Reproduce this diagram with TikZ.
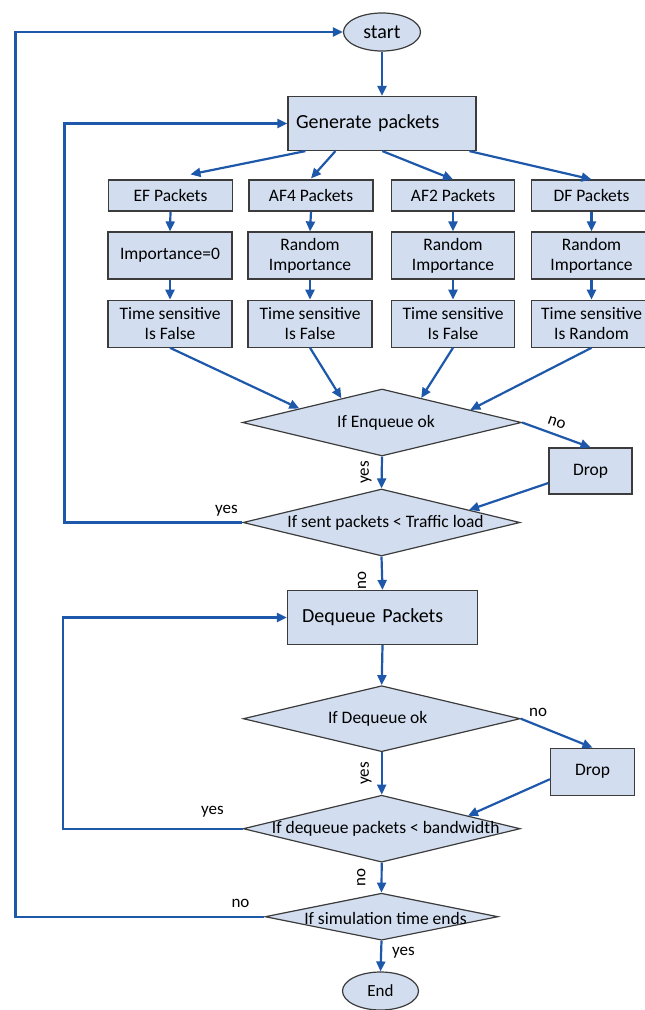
\documentclass[tikz,border=0pt]{standalone}
\usepackage{fontspec}
\setmainfont{Carlito}
\usetikzlibrary{shapes.geometric,arrows.meta,calc}
\definecolor{boxfill}{RGB}{210,222,239}
\definecolor{arrowblue}{RGB}{30,88,170}
\definecolor{boxline}{RGB}{60,60,60}
\begin{document}
\begin{tikzpicture}[x=1pt,y=-1pt,
 box/.style={draw=boxline, line width=1.2pt, fill=boxfill, rectangle, inner sep=0pt, align=center, font=\fontsize{17.5}{20}\selectfont},
 bigbox/.style={box, font=\fontsize{20}{24}\selectfont},
 dia/.style={draw=boxline, line width=1.2pt, fill=boxfill, diamond, inner sep=0pt},
 term/.style={draw=boxline, line width=1.2pt, fill=boxfill, ellipse, inner sep=0pt},
 arr/.style={draw=arrowblue, line width=2.2pt, -{Triangle[length=10pt,width=9pt]}},
 lbl/.style={font=\fontsize{17}{20}\selectfont, inner sep=0pt},
 vyes/.style={lbl, rotate=90, anchor=south, inner sep=9pt},
 vno/.style={lbl, rotate=90, anchor=south, inner sep=15pt},
 dtext/.style={font=\fontsize{17.5}{21}\selectfont, inner sep=0pt}
]
\useasboundingbox (0,0) rectangle (645,1010);

% terminals and main boxes
\node[term, minimum width=77, minimum height=38, font=\fontsize{20}{24}\selectfont] (start) at (382,32) {start};
\node[bigbox, minimum width=188, minimum height=54, text width=172, align=left] (gen) at (382,123.5) {Generate packets};

% row 1
\node[box, minimum width=124, minimum height=31] (ef1) at (170.5,195.5) {EF Packets};
\node[box, minimum width=124, minimum height=31] (af41) at (311,195.5) {AF4 Packets};
\node[box, minimum width=123, minimum height=31] (af21) at (453,195.5) {AF2 Packets};
\node[box, minimum width=120, minimum height=31] (df1) at (591.5,195.5) {DF Packets};
% row 2
\node[box, minimum width=124, minimum height=47] (ef2) at (170,255.5) {Importance=0};
\node[box, minimum width=124, minimum height=47] (af42) at (310,255.5) {Random\\Importance};
\node[box, minimum width=123, minimum height=47] (af22) at (453,255.5) {Random\\Importance};
\node[box, minimum width=120, minimum height=47] (df2) at (591.5,255.5) {Random\\Importance};
% row 3
\node[box, minimum width=124, minimum height=47] (ef3) at (170,323.7) {Time sensitive\\Is False};
\node[box, minimum width=124, minimum height=47] (af43) at (310,323.7) {Time sensitive\\Is False};
\node[box, minimum width=123, minimum height=47] (af23) at (453,323.7) {Time sensitive\\Is False};
\node[box, minimum width=120, minimum height=47] (df3) at (591.5,323.7) {Time sensitive\\Is Random};

% enqueue part
\node[dia, minimum width=279, minimum height=67, label={[dtext,xshift=4pt]center:If Enqueue ok}] (enq) at (382,422.5) {};
\node[box, minimum width=83, minimum height=46] (drop1) at (590.5,471) {Drop};
\node[dia, minimum width=277, minimum height=67, label={[dtext,xshift=4pt]center:If sent packets < Traffic load}] (sent) at (381.5,522.5) {};

% dequeue part
\node[bigbox, minimum width=190, minimum height=54, text width=161, align=left] (deq) at (382.5,617.5) {Dequeue Packets};
\node[dia, minimum width=277, minimum height=66, label={[dtext,xshift=-4pt]center:If Dequeue ok}] (deqok) at (381.7,718.7) {};
\node[box, minimum width=84, minimum height=47] (drop2) at (592.5,771.7) {Drop};
\node[dia, minimum width=277, minimum height=67, label={[dtext,xshift=4pt]center:If dequeue packets < bandwidth}] (bw) at (381.7,828.7) {};
\node[dia, minimum width=233, minimum height=47, label={[dtext,xshift=4pt,yshift=-2pt]center:If simulation time ends}] (sim) at (381.5,916.7) {};
\node[term, minimum width=76, minimum height=38, font=\fontsize{17}{20}\selectfont] (endn) at (380.5,991) {End};

% connectors
\draw[arr] (start.south) -- (gen.north);
\draw[arr] ($(gen.south west)+(18,0)$) -- ($(ef1.north)+(20,-5)$);
\draw[arr] ($(gen.south west)+(48,0)$) -- ($(af41.north)+(0,-1)$);
\draw[arr] ($(gen.south west)+(95,0)$) -- (af21.north);
\draw[arr] ($(gen.south west)+(182,0)$) -- (df1.north);

\draw[arr] (ef1.south) -- (ef2.north);
\draw[arr] (af41.south) -- (af42.north);
\draw[arr] (af21.south) -- (af22.north);
\draw[arr] (df1.south) -- (df2.north);
\draw[arr] (ef2.south) -- (ef3.north);
\draw[arr] (af42.south) -- (af43.north);
\draw[arr] (af22.south) -- (af23.north);
\draw[arr] (df2.south) -- (df3.north);

\draw[arr] (ef3.south) -- ($(enq.north)!0.59!(enq.west)$);
\draw[arr] (af43.south) -- ($(enq.north)!0.29!(enq.west)$);
\draw[arr] (af23.south) -- ($(enq.north)!0.28!(enq.east)$);
\draw[arr] (df3.south) -- ($(enq.north)!0.63!(enq.east)$);

\draw[arr] (enq.east) -- node[lbl, pos=0.45, sloped, above=6pt] {no} (drop1.north);
\draw[arr] (enq.south) -- node[vyes, pos=0.5] {yes} (sent.north);
\draw[arr] ($(drop1.west)+(0,12)$) -- ($(sent.north)!0.63!(sent.east)$);
\draw[arr] (sent.west) -- node[lbl, pos=0.09, above=5pt] {yes} ++(-178,0) |- (gen.west);
\draw[arr] (sent.south) -- node[vno, pos=0.72] {no} (deq.north);

\draw[arr] (deq.south) -- (deqok.north);
\draw[arr] (deqok.east) -- node[lbl, pos=0.1, anchor=south west, yshift=4pt] {no} (drop2.north);
\draw[arr] (deqok.south) -- node[vyes, pos=0.5] {yes} (bw.north);
\draw[arr] ($(drop2.west)+(0,7.5)$) -- ($(bw.north)!0.62!(bw.east)$);
\draw[arr] (bw.west) -- node[lbl, pos=0.168, above=10pt] {yes} ++(-180,0) |- (deq.west);
\draw[arr] (bw.south) -- node[vno, pos=0.5] {no} (sim.north);

\draw[arr] (sim.west) -- node[lbl, pos=0.096, above=7.5pt] {no} ++(-249,0) |- (start.west);
\draw[arr] (sim.south) -- node[lbl, pos=0.4, right=10pt] {yes} (endn.north);
\end{tikzpicture}
\end{document}
